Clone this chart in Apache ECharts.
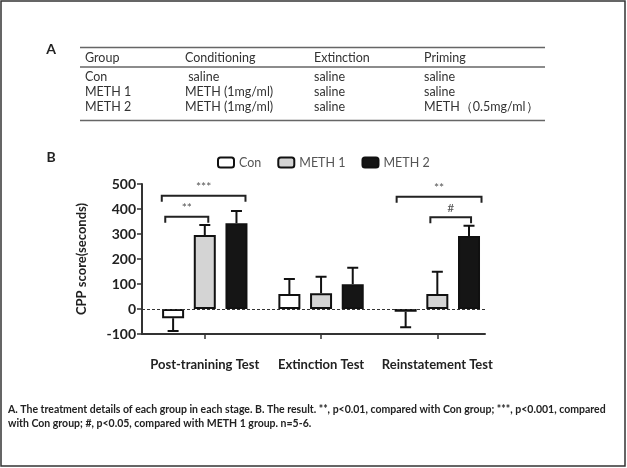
<!DOCTYPE html>
<html>
<head>
<meta charset="utf-8">
<script src="https://cdn.jsdelivr.net/npm/echarts@6/dist/echarts.min.js"></script>
<style>
  html, body { margin: 0; padding: 0; background: #fff; }
  #chart { width: 627px; height: 468px; }
</style>
</head>
<body>
<div id="chart"></div>
<script>
// panel A table
const tableHeader = ['Group', 'Conditioning', 'Extinction', 'Priming']
const tableRows = [
  ['Con', ' saline', 'saline', 'saline'],
  ['METH 1', 'METH (1mg/ml)', 'saline', 'saline'],
  ['METH 2', 'METH (1mg/ml)', 'saline', 'METH\uFF080.5mg/ml\uFF09']
]

// panel B data
const categories = ['Post-tranining Test', 'Extinction Test', 'Reinstatement Test']
const groups = ['Con', 'METH 1', 'METH 2']
const conMean = [-37, 60, -11]
const conErr = [-88, 120, -73]
const meth1Mean = [296, 63, 60]
const meth1Err = [336, 129, 149]
const meth2Mean = [343, 99, 292]
const meth2Err = [392, 165, 333]
const yTicks = [-100, 0, 100, 200, 300, 400, 500]

// significance brackets: from / to in category units, height, mark
const brackets = [
  [-0.37, 0.35, 453, '***'],
  [-0.34, 0.03, 369, '**'],
  [1.65, 2.38, 449, '**'],
  [1.94, 2.29, 367, '#']
]

const caption = [
  'A. The treatment details of each group in each stage. B. The result. **, p<0.01, compared with Con group; ***, p<0.001, compared',
  'with Con group; #, p<0.05, compared with METH 1 group. n=5-6.'
]

const FONT = 'Lato'
const BAR_W = 22
const BAR_GAP = 0.44
const colors = ['#ffffff', '#d4d4d4', '#151515']

const chart = echarts.init(document.getElementById('chart'), null, { renderer: 'canvas' })

const means = [conMean, meth1Mean, meth2Mean]
const errs = [conErr, meth1Err, meth2Err]

function barSeries(i) {
  return {
    name: groups[i],
    type: 'bar',
    barWidth: BAR_W,
    barGap: (BAR_GAP * 100) + '%',
    itemStyle: { color: colors[i], borderColor: '#111', borderWidth: 2 },
    data: means[i].map((v, k) => [k, v]),
    z: 3
  }
}

function errSeries(i) {
  const shift = (i - 1) * BAR_W * (1 + BAR_GAP)
  return {
    type: 'custom',
    silent: true,
    z: 4,
    data: means[i].map((v, k) => [k, v, errs[i][k]]),
    renderItem(params, api) {
      const a = api.coord([api.value(0), api.value(1)])
      const b = api.coord([api.value(0), api.value(2)])
      const x = a[0] + shift
      const style = { stroke: '#111', lineWidth: 2 }
      return {
        type: 'group',
        children: [
          { type: 'line', shape: { x1: x, y1: a[1], x2: x, y2: b[1] }, style },
          { type: 'line', shape: { x1: x - 5.5, y1: b[1], x2: x + 5.5, y2: b[1] }, style }
        ]
      }
    }
  }
}

const bracketSeries = {
  type: 'custom',
  silent: true,
  z: 5,
  data: brackets,
  renderItem(params, api) {
    const p1 = api.coord([api.value(0), api.value(2)])
    const p2 = api.coord([api.value(1), api.value(2)])
    const style = { stroke: '#222', lineWidth: 2, fill: null }
    return {
      type: 'group',
      children: [
        { type: 'polyline', shape: { points: [[p1[0], p1[1] + 6], [p1[0], p1[1]], [p2[0], p2[1]], [p2[0], p2[1] + 6]] }, style },
        {
          type: 'text',
          style: {
            text: brackets[params.dataIndex][3],
            x: (p1[0] + p2[0]) / 2,
            y: p1[1] - 3,
            align: 'center',
            verticalAlign: 'bottom',
            fill: '#555',
            font: '12px ' + FONT
          }
        }
      ]
    }
  }
}

// table + labels as graphics
const colX = [85, 185, 314, 424]
const graphics = [
  { type: 'rect', shape: { x: 1, y: 1, width: 624, height: 465 }, style: { fill: null, stroke: '#333', lineWidth: 1.5 } },
  { type: 'text', x: 51, y: 49, style: { text: 'A', font: 'bold 14px ' + FONT, fill: '#222', align: 'center', verticalAlign: 'middle' } },
  { type: 'text', x: 51, y: 157, style: { text: 'B', font: 'bold 14px ' + FONT, fill: '#222', align: 'center', verticalAlign: 'middle' } },
  { type: 'line', shape: { x1: 80, y1: 47.5, x2: 545, y2: 47.5 }, style: { stroke: '#666', lineWidth: 1.3 } },
  { type: 'line', shape: { x1: 80, y1: 67, x2: 545, y2: 67 }, style: { stroke: '#666', lineWidth: 1.3 } },
  { type: 'line', shape: { x1: 80, y1: 120.5, x2: 545, y2: 120.5 }, style: { stroke: '#666', lineWidth: 1.3 } }
]
tableHeader.forEach((t, c) => {
  graphics.push({ type: 'text', x: colX[c], y: 58, style: { text: t, font: '12.5px ' + FONT, fill: '#333', verticalAlign: 'middle' } })
})
tableRows.forEach((row, r) => {
  row.forEach((t, c) => {
    graphics.push({ type: 'text', x: colX[c], y: 77 + r * 15.2, style: { text: t, font: '12.5px ' + FONT, fill: '#333', verticalAlign: 'middle' } })
  })
})
caption.forEach((t, r) => {
  graphics.push({ type: 'text', x: 8, y: 410 + r * 14, style: { text: t, font: 'bold 10.5px ' + FONT, fill: '#222', verticalAlign: 'middle' } })
})

const option = {
  animation: false,
  textStyle: { fontFamily: FONT },
  legend: {
    data: groups,
    left: 217,
    top: 156,
    padding: 0,
    itemWidth: 16,
    itemHeight: 10,
    itemGap: 16,
    icon: 'roundRect',
    textStyle: { color: '#555', fontSize: 12.5, fontFamily: FONT }
  },
  grid: { left: 142, top: 184, width: 343, height: 150 },
  xAxis: {
    type: 'value',
    min: -0.54,
    max: 2.41,
    splitLine: { show: false },
    axisLine: { onZero: false, lineStyle: { color: '#333', width: 2 } },
    axisTick: { customValues: [0, 1, 2], length: 5, lineStyle: { color: '#333', width: 1.5 } },
    axisLabel: {
      customValues: [0, 1, 2],
      formatter: v => categories[v],
      margin: 24,
      color: '#222',
      fontWeight: 'bold',
      fontSize: 13,
      fontFamily: FONT
    }
  },
  yAxis: {
    type: 'value',
    min: yTicks[0],
    max: yTicks[yTicks.length - 1],
    interval: 100,
    name: 'CPP score(seconds)',
    nameLocation: 'middle',
    nameGap: 54,
    nameTextStyle: { color: '#222', fontWeight: 'bold', fontSize: 13, fontFamily: FONT },
    splitLine: { show: false },
    axisLine: { show: true, onZero: false, lineStyle: { color: '#333', width: 2 } },
    axisTick: { show: true, length: 5, lineStyle: { color: '#333', width: 1.5 } },
    axisLabel: { color: '#222', fontWeight: 'bold', fontSize: 14, fontFamily: FONT, margin: 6 }
  },
  series: [
    Object.assign(barSeries(0), {
      markLine: {
        silent: true,
        symbol: 'none',
        label: { show: false },
        lineStyle: { color: '#333', type: [3, 2], width: 1 },
        data: [{ yAxis: 0 }]
      }
    }),
    barSeries(1),
    barSeries(2),
    errSeries(0),
    errSeries(1),
    errSeries(2),
    bracketSeries
  ],
  graphic: graphics
}

chart.setOption(option)
</script>
</body>
</html>
